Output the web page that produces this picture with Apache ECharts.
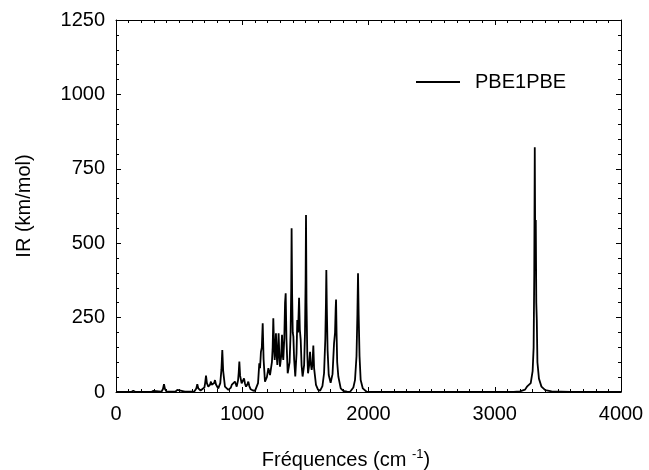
<!DOCTYPE html>
<html>
<head>
<meta charset="utf-8">
<script src="https://cdn.jsdelivr.net/npm/echarts@6/dist/echarts.min.js"></script>
<style>
  html, body { margin: 0; padding: 0; background: #fff; }
  #chart { width: 649px; height: 470px; }
</style>
</head>
<body>
<div id="chart"></div>
<script>
// 频率 (cm-1) / IR 强度 (km/mol)
const lowRegion = [
  [0, 0], [120, 0], [137, 4], [155, 0], [280, 0], [296, 4], [310, 0], [360, 1], [372, 10], [380, 26],
  [388, 10], [400, 2], [470, 1], [486, 7], [500, 1], [545, 1], [554, 4], [565, 1], [620, 2], [636, 12],
  [644, 26], [652, 12], [670, 5], [700, 15], [706, 30], [713, 55], [720, 30], [731, 18], [745, 25], [752, 35],
  [758, 24], [766, 22], [778, 30], [784, 40], [792, 25], [810, 12], [826, 30], [835, 75], [842, 141], [849, 70],
  [863, 18], [890, 7], [910, 15], [918, 25], [924, 31], [932, 28], [942, 35], [950, 25], [956, 18], [967, 40],
  [972, 65], [977, 102], [983, 55], [995, 29], [1006, 32], [1014, 46], [1022, 28], [1030, 18], [1040, 25], [1048, 35],
  [1056, 20], [1067, 9], [1085, 5], [1101, 4]
]
const fingerprint = [
  [1115, 8], [1125, 30], [1135, 96], [1141, 80], [1148, 135], [1155, 150], [1162, 231], [1169, 110], [1180, 35], [1195, 50],
  [1207, 80], [1220, 57], [1235, 100], [1241, 150], [1246, 248], [1252, 150], [1257, 108], [1262, 150], [1267, 197], [1273, 120],
  [1278, 91], [1283, 140], [1288, 197], [1294, 120], [1299, 85], [1308, 120], [1315, 192], [1320, 130], [1325, 108], [1333, 180],
  [1339, 300], [1344, 332], [1350, 180], [1360, 63], [1375, 100], [1383, 200], [1388, 350], [1391, 550], [1395, 330], [1400, 200],
  [1405, 186], [1411, 110], [1420, 52], [1430, 130], [1436, 242], [1442, 200], [1450, 317], [1456, 210], [1463, 175], [1470, 90],
  [1478, 52], [1490, 90], [1497, 200], [1502, 380], [1505, 595], [1509, 300], [1515, 130], [1521, 63], [1530, 90], [1537, 135],
  [1543, 95], [1550, 74], [1557, 100], [1563, 156], [1569, 80], [1584, 24], [1600, 8], [1616, 4], [1635, 20], [1648, 63],
  [1658, 180], [1663, 300], [1666, 410], [1670, 280], [1676, 140], [1685, 57], [1700, 31], [1715, 60], [1727, 163], [1735, 200],
  [1740, 280], [1743, 311], [1747, 200], [1752, 100], [1761, 52], [1780, 12], [1800, 4], [1830, 1], [1853, 0], [1880, 15],
  [1893, 40], [1905, 120], [1912, 260], [1917, 399], [1922, 260], [1929, 120], [1938, 40], [1955, 12], [1985, 1], [2050, 0]
]
const chStretch = [
  [3150, 0], [3200, 2], [3240, 8], [3255, 18], [3261, 24], [3268, 18], [3285, 30], [3300, 70], [3308, 150], [3313, 400],
  [3317, 822], [3321, 450], [3325, 578], [3329, 300], [3333, 242], [3338, 100], [3350, 45], [3370, 18], [3400, 6], [3450, 2],
  [3600, 0], [4000, 0]
]
const spectrum = lowRegion.concat(fingerprint, chStretch)

const xMin = 0, xMax = 4000, xStep = 1000
const yMin = 0, yMax = 1250, yStep = 250

const font = 'Liberation Sans, Arial, sans-serif'

const chart = echarts.init(document.getElementById('chart'))

// 四边都画轴线，刻度朝内
const axisBase = (splitNumber) => ({
  axisLine: { show: true, onZero: false, lineStyle: { color: '#000', width: 1 } },
  axisTick: { show: true, inside: true, length: 5, lineStyle: { color: '#000' } },
  minorTick: { show: true, splitNumber: splitNumber, length: 3, lineStyle: { color: '#000' } },
  splitLine: { show: false },
  axisLabel: { show: false }
})
const labelStyle = (margin) => ({
  show: true,
  fontFamily: font,
  fontSize: 20,
  color: '#000',
  margin: margin,
  formatter: (v) => String(v) // 不要千分位
})

const options = {
  animation: false,
  grid: { left: 116, right: 28, top: 20, bottom: 78, containLabel: false, outerBoundsMode: 'none' },
  legend: {
    left: 416,
    top: 72,
    padding: 0,
    icon: 'rect',
    itemWidth: 44,
    itemHeight: 2,
    textStyle: { fontFamily: font, fontSize: 20, color: '#000', padding: [0, 0, 0, 10] },
    data: ['PBE1PBE']
  },
  xAxis: [
    {
      type: 'value', min: xMin, max: xMax, interval: xStep,
      ...axisBase(10),
      axisLabel: labelStyle(12),
      name: '{a|Fréquences (cm }{sup|-1}{a|)}',
      nameLocation: 'middle',
      nameGap: 56,
      nameTextStyle: {
        padding: [0, 45, 0, 0],
        rich: {
          a: { fontFamily: font, fontSize: 20, color: '#000', lineHeight: 24 },
          sup: { fontFamily: font, fontSize: 13, color: '#000', padding: [0, 0, 12, 0] }
        }
      }
    },
    {
      type: 'value', min: xMin, max: xMax, interval: xStep, position: 'top',
      ...axisBase(10)
    }
  ],
  yAxis: [
    {
      type: 'value', min: yMin, max: yMax, interval: yStep,
      ...axisBase(5),
      axisLabel: labelStyle(11),
      name: 'IR (km/mol)',
      nameLocation: 'middle',
      nameGap: 82,
      nameTextStyle: { fontFamily: font, fontSize: 20, color: '#000' }
    },
    {
      type: 'value', min: yMin, max: yMax, interval: yStep, position: 'right',
      ...axisBase(5)
    }
  ],
  series: [
    {
      name: 'PBE1PBE',
      type: 'line',
      data: spectrum,
      showSymbol: false,
      symbol: 'none',
      lineStyle: { color: '#000', width: 1.8 },
      itemStyle: { color: '#000' }
    }
  ]
}

options && chart.setOption(options, true)
</script>
</body>
</html>
